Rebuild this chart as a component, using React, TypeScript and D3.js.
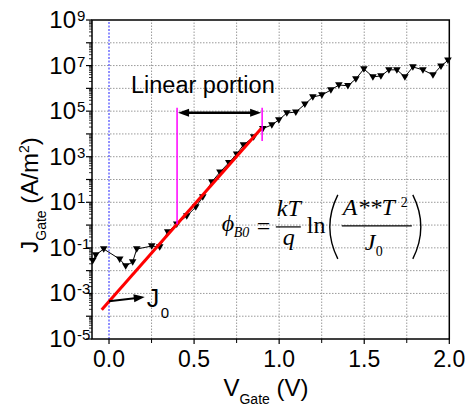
import React from "react";
import * as d3 from "d3";

// ---- data ----
const vGate = [-0.096, -0.078, -0.031, 0.063, 0.098, 0.139, 0.163, 0.251, 0.298, 0.345, 0.398, 0.457, 0.51, 0.551, 0.604, 0.652, 0.704, 0.75, 0.79, 0.85, 0.904, 0.957, 0.998, 1.045, 1.098, 1.151, 1.198, 1.251, 1.304, 1.351, 1.404, 1.451, 1.498, 1.551, 1.598, 1.645, 1.692, 1.739, 1.786, 1.845, 1.904, 1.951, 1.992];
const jGate = [2.7e-2, 4.9e-2, 8.9e-2, 3.2e-2, 1.6e-2, 2.4e-2, 8.9e-2, 1.2e-1, 1.1e-1, 5.0e-1, 1.1, 2.5, 6.2, 1.7e1, 7.8e1, 2.1e2, 5.4e2, 1.3e3, 3.3e3, 7.4e3, 1.7e4, 2.5e4, 4.1e4, 8.3e4, 9.1e4, 2.0e5, 4.2e5, 5.1e5, 8.5e5, 1.4e6, 1.3e6, 2.6e6, 7.1e6, 3.2e6, 3.5e6, 6.5e6, 6.5e6, 3.2e6, 8.7e6, 6.5e6, 3.9e6, 9.5e6, 1.7e7];

const fitV = [-0.043, 0.897];
const fitJ = [1.9e-4, 1.8e4];

const linearV = [0.4, 0.9];
const linearTopJ = 1.4e5;
const linearBottomJ = [1.1, 4.9e3];
const arrowJ = 8.5e4;

const j0V = 0;
const j0J = 4.5e-4;
const j0ArrowEnd = { v: 0.21, j: 7e-4 };

const xTicks = [0, 0.5, 1.0, 1.5, 2.0];
const xTickLabels = ["0.0", "0.5", "1.0", "1.5", "2.0"];
const xMinorTicks = [0.25, 0.75, 1.25, 1.75];
const yLabelExps = [9, 7, 5, 3, 1, -1, -3, -5];

const W = 470;
const H = 408;
const M = { left: 92, top: 20, right: 20.7, bottom: 69 };

export default function App() {
  const x = d3.scaleLinear().domain([-0.1, 2.0]).range([M.left, W - M.right]);
  const y = d3.scaleLog().domain([1e-5, 1e9]).range([H - M.bottom, M.top]);
  const x0 = M.left, x1 = W - M.right, y0 = H - M.bottom, y1 = M.top;

  const decades = d3.range(-5, 10);
  const minor: number[] = [];
  for (let d = -5; d < 9; d++) for (let k = 2; k <= 9; k++) minor.push(k * Math.pow(10, d));
  const gridV = [0.25, 0.5, 0.75, 1.0, 1.25, 1.5, 1.75];
  const gridH = d3.range(-4, 9);

  const line = d3
    .line<number>()
    .x((_, i) => x(vGate[i]))
    .y((d) => y(d));

  const sans = "Arial, 'Liberation Sans', sans-serif";
  const serif = "'Times New Roman', 'Liberation Serif', serif";

  const tri = "M-3.8,-2.7 L3.8,-2.7 L0,3.8 Z";

  // formula anchor
  const bx = x(0.663);
  const by = y(0.83);

  const ay = y(arrowJ);
  const al = x(linearV[0]);
  const ar = x(linearV[1]);

  const jx0 = x(j0V), jy0 = y(j0J);
  const jx1 = x(j0ArrowEnd.v), jy1 = y(j0ArrowEnd.j);
  const ang = Math.atan2(jy1 - jy0, jx1 - jx0);
  const ah = (px: number, py: number, a: number, len: number, w: number) => {
    const c = Math.cos(a), s = Math.sin(a);
    const bxp = px - len * c, byp = py - len * s;
    return `M${px},${py} L${bxp - w * s},${byp + w * c} L${bxp + w * s},${byp - w * c} Z`;
  };

  return (
    <svg width={W} height={H} style={{ position: "absolute", left: 0, top: 0, background: "#fff" }}>
      <rect x={0} y={0} width={W} height={H} fill="#fff" />
      {/* grid */}
      {gridV.map((v) => (
        <line key={"gv" + v} x1={x(v)} x2={x(v)} y1={y0} y2={y1} stroke="#9a9a9a" strokeWidth={1} strokeDasharray="1.5,1.5" />
      ))}
      {gridH.map((e) => (
        <line key={"gh" + e} x1={x0} x2={x1} y1={y(Math.pow(10, e))} y2={y(Math.pow(10, e))} stroke="#9a9a9a" strokeWidth={1} strokeDasharray="1.5,1.5" />
      ))}
      {/* blue zero line */}
      <line x1={x(0)} x2={x(0)} y1={y0} y2={y1} stroke="#2020ff" strokeWidth={1} strokeDasharray="2,1.5" />

      {/* data */}
      <path d={line(jGate) || ""} fill="none" stroke="#000" strokeWidth={1} />
      {jGate.map((j, i) => (
        <path key={"m" + i} d={tri} transform={`translate(${x(vGate[i])},${y(j)})`} fill="#000" />
      ))}

      {/* fit line */}
      <line x1={x(fitV[0])} y1={y(fitJ[0])} x2={x(fitV[1])} y2={y(fitJ[1])} stroke="#ff0000" strokeWidth={3} />

      {/* magenta markers */}
      <line x1={al} x2={al} y1={y(linearTopJ)} y2={y(linearBottomJ[0])} stroke="#ff00ff" strokeWidth={1.5} />
      <line x1={ar} x2={ar} y1={y(linearTopJ)} y2={y(linearBottomJ[1])} stroke="#ff00ff" strokeWidth={1.5} />

      {/* double arrow */}
      <line x1={al + 8} x2={ar - 8} y1={ay} y2={ay} stroke="#000" strokeWidth={2.5} />
      <path d={ah(al + 1, ay, Math.PI, 11, 4)} fill="#000" />
      <path d={ah(ar - 1, ay, 0, 11, 4)} fill="#000" />
      <text x={131} y={93} fontFamily={sans} fontSize={23.5}>Linear portion</text>

      {/* J0 arrow */}
      <line x1={jx0} y1={jy0} x2={jx1 - 8 * Math.cos(ang)} y2={jy1 - 8 * Math.sin(ang)} stroke="#000" strokeWidth={2} />
      <path d={ah(jx1, jy1, ang, 11, 4)} fill="#000" />
      <text x={jx1 + 2} y={jy1 + 10} fontFamily={sans} fontSize={25}>J</text>
      <text x={jx1 + 16} y={jy1 + 21} fontFamily={sans} fontSize={15}>0</text>

      {/* formula */}
      <g fontFamily={serif} fill="#000">
        <text x={bx} y={by + 4} fontSize={24} fontStyle="italic">ϕ</text>
        <text x={bx + 12} y={by + 10} fontSize={14} fontStyle="italic">B0</text>
        <text x={bx + 35} y={by + 7} fontSize={24}>=</text>
        <text x={bx + 67} y={by - 11} fontSize={24} fontStyle="italic" textAnchor="middle">kT</text>
        <line x1={bx + 54} x2={bx + 79} y1={by} y2={by} stroke="#000" strokeWidth={1.2} />
        <text x={bx + 67} y={by + 18} fontSize={24} fontStyle="italic" textAnchor="middle">q</text>
        <text x={bx + 85} y={by + 6} fontSize={24}>ln</text>
        <path d={`M${bx + 116},${by - 32} Q${bx + 100},${by} ${bx + 116},${by + 32}`} fill="none" stroke="#000" strokeWidth={1.4} />
        <text x={bx + 121} y={by - 12} fontSize={24} fontStyle="italic">A**T</text>
        <text x={bx + 179} y={by - 20} fontSize={14}>2</text>
        <line x1={bx + 120} x2={bx + 190} y1={by - 1} y2={by - 1} stroke="#000" strokeWidth={1.2} />
        <text x={bx + 143} y={by + 23} fontSize={24} fontStyle="italic">J</text>
        <text x={bx + 154} y={by + 29} fontSize={14}>0</text>
        <path d={`M${bx + 191},${by - 32} Q${bx + 207},${by} ${bx + 191},${by + 32}`} fill="none" stroke="#000" strokeWidth={1.4} />
      </g>

      {/* frame */}
      <rect x={x0} y={y1} width={x1 - x0} height={y0 - y1} fill="none" stroke="#000" strokeWidth={1.5} />

      {/* y ticks */}
      {decades.map((e) => (
        <line key={"yt" + e} x1={x0 - 6} x2={x0} y1={y(Math.pow(10, e))} y2={y(Math.pow(10, e))} stroke="#000" strokeWidth={1.2} />
      ))}
      {minor.map((v, i) => (
        <line key={"ym" + i} x1={x0 - 3} x2={x0} y1={y(v)} y2={y(v)} stroke="#000" strokeWidth={0.8} />
      ))}
      {yLabelExps.map((e) => {
        const ty = y(Math.pow(10, e));
        return (
          <g key={"yl" + e} fontFamily={sans}>
            <text x={76} y={ty + 8} fontSize={24} textAnchor="end">10</text>
            <text x={77} y={ty + 1} fontSize={15}>{e < 0 ? "-" + Math.abs(e) : String(e)}</text>
          </g>
        );
      })}

      {/* x ticks */}
      {xTicks.map((v) => (
        <line key={"xt" + v} x1={x(v)} x2={x(v)} y1={y0} y2={y0 + 5} stroke="#000" strokeWidth={1.2} />
      ))}
      {xMinorTicks.map((v) => (
        <line key={"xm" + v} x1={x(v)} x2={x(v)} y1={y0} y2={y0 + 4} stroke="#000" strokeWidth={1} />
      ))}
      {xTicks.map((v, i) => (
        <text key={"xl" + v} x={x(v)} y={y0 + 28} fontFamily={sans} fontSize={23} textAnchor="middle">{xTickLabels[i]}</text>
      ))}

      {/* axis titles */}
      <text x={266} y={396} fontFamily={sans} fontSize={24} textAnchor="middle">
        V<tspan dy={8} fontSize={14}>Gate</tspan><tspan dy={-8}> (V)</tspan>
      </text>
      <text transform="translate(38,195) rotate(-90)" fontFamily={sans} fontSize={24} textAnchor="middle">
        J<tspan dy={8} fontSize={14}>Gate</tspan><tspan dy={-8}> (A/m</tspan><tspan dy={-9} fontSize={14}>2</tspan><tspan dy={9}>)</tspan>
      </text>
    </svg>
  );
}
